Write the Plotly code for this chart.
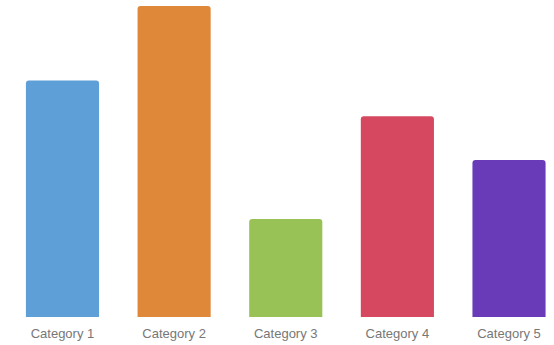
import plotly.graph_objects as go

categories = ["Category 1", "Category 2", "Category 3", "Category 4", "Category 5"]
values = [76, 100, 31.5, 64.5, 50.5]
colors = ["#5e9fd8", "#e0883a", "#98c256", "#d6485f", "#6a3bb8"]

fig = go.Figure(go.Bar(
    x=categories, y=values,
    marker=dict(color=colors, cornerradius=3, line=dict(width=0)),
    width=0.655,
))
fig.update_layout(
    width=554, height=345,
    margin=dict(l=7, r=0, t=0, b=28),
    paper_bgcolor="white", plot_bgcolor="white",
    showlegend=False,
    xaxis=dict(range=[-0.497, 4.403], showgrid=False, zeroline=False, showline=False,
               ticks="", ticklabelstandoff=7,
               tickfont=dict(family="Arial, Liberation Sans", size=13, color="#777777")),
    yaxis=dict(range=[0, 101.9], visible=False),
)
fig.write_html("out.html")
